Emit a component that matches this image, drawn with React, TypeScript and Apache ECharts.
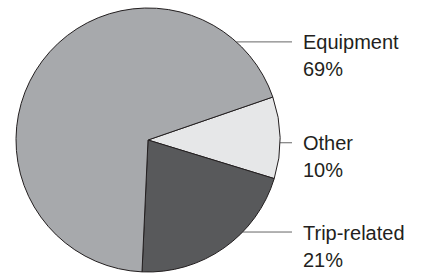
import React, { useEffect, useRef } from "react";
import * as echarts from "echarts";

const categories = ["Other", "Trip-related", "Equipment"];
const values = [10, 21, 69];
const colors = ["#e6e7e8", "#58595b", "#a7a9ac"];

// layout constants
const CX = 148;
const CY = 140;
const R = 132;
const anchorAngles = [-1.2, -44.2, 48];
const LINE_END_X = 292;
const TEXT_X = 303;
const LINE_H = 27;

export default function App() {
  const ref = useRef<HTMLDivElement>(null);
  useEffect(() => {
    if (!ref.current) return;
    const chart = echarts.init(ref.current, null, { renderer: "svg" });
    chart.setOption({
      animation: false,
      backgroundColor: "#ffffff",
      series: [
        {
          type: "pie",
          center: [CX, CY],
          radius: R,
          startAngle: 19,
          clockwise: true,
          avoidLabelOverlap: false,
          data: categories.map((c, i) => ({
            name: c,
            value: values[i],
            itemStyle: { color: colors[i] },
          })),
          itemStyle: { borderColor: "#231f20", borderWidth: 1 },
          label: {
            show: true,
            position: "outside",
            formatter: (p: any) => `${p.name}\n${Math.round(p.percent)}%`,
            fontFamily: "Liberation Sans, Arial, sans-serif",
            fontSize: 20,
            lineHeight: LINE_H,
            color: "#231f20",
          },
          labelLine: {
            show: true,
            lineStyle: { color: "#666666", width: 1 },
          },
          emphasis: { disabled: true },
          labelLayout: (p: any) => {
            const a = (anchorAngles[p.dataIndex] * Math.PI) / 180;
            const ex = CX + R * Math.cos(a);
            const ey = CY - R * Math.sin(a);
            return {
              x: TEXT_X,
              y: ey + LINE_H / 2 + 0.5,
              align: "left",
              verticalAlign: "middle",
              labelLinePoints: [
                [ex, ey],
                [LINE_END_X, ey],
                [LINE_END_X, ey],
              ],
            };
          },
        },
      ],
    });
    return () => chart.dispose();
  }, []);
  return (
    <div
      ref={ref}
      style={{ position: "fixed", left: 0, top: 0, width: 425, height: 273 }}
    />
  );
}
